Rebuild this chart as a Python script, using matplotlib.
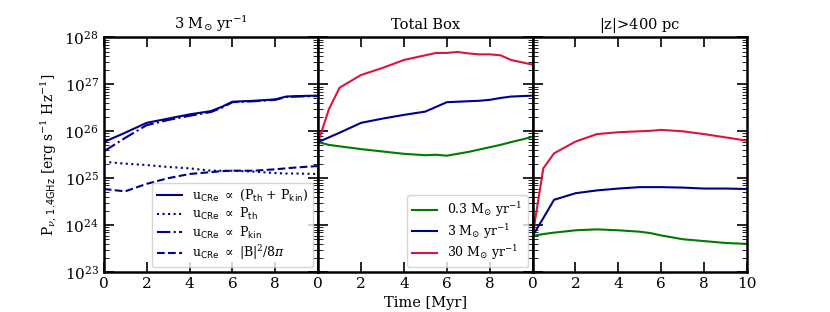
import numpy as np
import matplotlib
matplotlib.use("Agg")
from matplotlib import pyplot as plt

plt.rcParams['font.family'] = 'DejaVu Serif'
plt.rcParams['mathtext.fontset'] = 'dejavuserif'
plt.rcParams['xtick.direction'] = 'in'
plt.rcParams['ytick.direction'] = 'in'

# left panel: 3 Msun/yr, different CRe prescriptions (log10 of power)
t_left = [0, 1, 2, 3, 4, 5, 5.5, 6, 7, 8, 8.5, 9, 10]
log_both = [25.77, 25.97, 26.18, 26.27, 26.36, 26.43, 26.52, 26.63, 26.65, 26.68, 26.74, 26.75, 26.76]
log_pkin = [25.57, 25.86, 26.13, 26.24, 26.33, 26.41, 26.50, 26.62, 26.64, 26.67, 26.73, 26.74, 26.75]
log_pth = [25.35, 25.31, 25.28, 25.24, 25.21, 25.16, 25.16, 25.16, 25.14, 25.11, 25.10, 25.10, 25.09]
log_bfield = [24.77, 24.72, 24.88, 25.00, 25.09, 25.13, 25.15, 25.16, 25.16, 25.19, 25.21, 25.23, 25.26]

# middle panel: total box
t_mid = [0, 0.5, 1, 2, 3, 4, 5, 5.5, 6, 6.5, 7, 7.5, 8, 8.5, 9, 10]
log_low_tot = [25.77, 25.71, 25.68, 25.62, 25.57, 25.52, 25.49, 25.50, 25.48, 25.52, 25.56, 25.61, 25.66, 25.71, 25.77, 25.88]
log_mid_tot = [25.77, 25.87, 25.97, 26.18, 26.27, 26.35, 26.42, 26.52, 26.62, 26.63, 26.64, 26.65, 26.67, 26.71, 26.74, 26.76]
log_high_tot = [25.77, 26.47, 26.93, 27.20, 27.35, 27.52, 27.62, 27.67, 27.67, 27.69, 27.66, 27.64, 27.64, 27.62, 27.52, 27.42]

# right panel: |z| > 400 pc
t_right = [0, 0.5, 1, 2, 3, 4, 5, 5.5, 6, 7, 8, 9, 10]
log_low_z = [23.77, 23.81, 23.84, 23.89, 23.91, 23.89, 23.86, 23.83, 23.78, 23.70, 23.66, 23.62, 23.60]
log_mid_z = [23.77, 24.15, 24.54, 24.68, 24.74, 24.78, 24.81, 24.81, 24.81, 24.80, 24.78, 24.78, 24.77]
log_high_z = [23.77, 25.21, 25.53, 25.78, 25.94, 25.98, 26.00, 26.01, 26.03, 26.00, 25.94, 25.87, 25.80]

titles = [r'3 M$_{\odot}$ yr$^{-1}$', 'Total Box', r'$|$z$|$>400 pc']
sfr_labels = [r'0.3 M$_{\odot}$ yr$^{-1}$', r'3 M$_{\odot}$ yr$^{-1}$', r'30 M$_{\odot}$ yr$^{-1}$']
cre_labels = [r'u$_{\mathsf{CRe}}$ $\propto$ (P$_{\mathsf{th}}$ + P$_{\mathsf{kin}}$)',
              r'u$_{\mathsf{CRe}}$ $\propto$ P$_{\mathsf{th}}$',
              r'u$_{\mathsf{CRe}}$ $\propto$ P$_{\mathsf{kin}}$',
              r'u$_{\mathsf{CRe}}$ $\propto$ $|$B$|^2$/8$\pi$']

blue = '#00008B'
green = '#007a00'
red = '#DC143C'

fig, axes = plt.subplots(1, 3, figsize=(8.3, 3.12), dpi=100, sharey=True)
fig.subplots_adjust(left=0.125, right=0.9, bottom=0.128, top=0.88, wspace=0)

leg_kw = dict(loc='lower right', fontsize=9, handlelength=2.0, labelspacing=0.2,
              borderpad=0.4, handletextpad=0.8, borderaxespad=0.4)

ax = axes[0]
ax.plot(t_left, 10 ** np.array(log_both), color=blue, lw=1.5, ls='-', label=cre_labels[0])
ax.plot(t_left, 10 ** np.array(log_pth), color=blue, lw=1.5, ls=':', label=cre_labels[1])
ax.plot(t_left, 10 ** np.array(log_pkin), color=blue, lw=1.5, ls='-.', label=cre_labels[2])
ax.plot(t_left, 10 ** np.array(log_bfield), color=blue, lw=1.5, ls='--', label=cre_labels[3])
ax.legend(**leg_kw)

ax = axes[1]
ax.plot(t_mid, 10 ** np.array(log_low_tot), color=green, lw=1.5, label=sfr_labels[0])
ax.plot(t_mid, 10 ** np.array(log_mid_tot), color=blue, lw=1.5, label=sfr_labels[1])
ax.plot(t_mid, 10 ** np.array(log_high_tot), color=red, lw=1.5, label=sfr_labels[2])
ax.legend(**leg_kw)

ax = axes[2]
ax.plot(t_right, 10 ** np.array(log_low_z), color=green, lw=1.5)
ax.plot(t_right, 10 ** np.array(log_mid_z), color=blue, lw=1.5)
ax.plot(t_right, 10 ** np.array(log_high_z), color=red, lw=1.5)

for i, ax in enumerate(axes):
    ax.set_yscale('log')
    ax.set_ylim(1e23, 1e28)
    ax.set_xlim(0, 10)
    ax.set_title(titles[i], fontsize=10.5)
    if i < 2:
        ax.set_xticks([0, 2, 4, 6, 8])
    else:
        ax.set_xticks([0, 2, 4, 6, 8, 10])
    ax.tick_params(which='both', top=True, right=True, labelsize=11)
    ax.tick_params(which='major', length=7, width=1.2)
    ax.tick_params(which='minor', length=3.5)
    for s in ax.spines.values():
        s.set_linewidth(1.8)

axes[0].set_ylabel(r'P$_{\nu,\,\mathsf{1.4GHz}}$ [erg s$^{-1}$ Hz$^{-1}$]', fontsize=10)
axes[1].set_xlabel('Time [Myr]', fontsize=10.5)

plt.savefig('out.png', dpi=100)
